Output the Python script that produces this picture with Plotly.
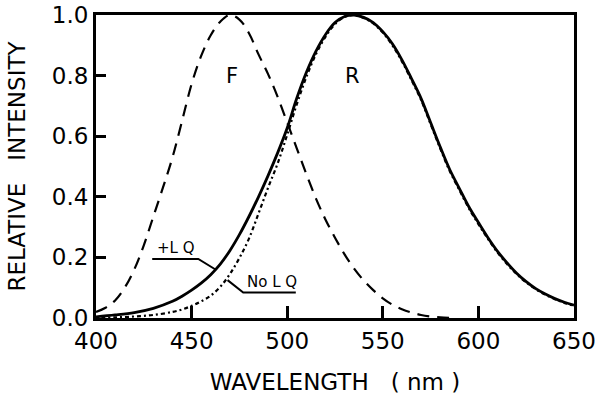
import plotly.graph_objects as go

# Emission spectra (wavelength in nm, relative intensity)
wl_f = [400, 405, 410, 415, 420, 425, 430, 435, 440, 445, 450, 455, 460, 465,
        470, 475, 480, 485, 490, 495, 500, 505, 510, 515, 520, 525, 530, 535,
        540, 545, 550, 555, 560, 565, 570, 575, 580, 585]
f_vals = [0.02, 0.034, 0.058, 0.10, 0.16, 0.24, 0.335, 0.43, 0.53, 0.65, 0.772,
          0.865, 0.933, 0.978, 1.0, 0.985, 0.94, 0.87, 0.805, 0.73, 0.645, 0.56,
          0.475, 0.395, 0.325, 0.265, 0.21, 0.163, 0.124, 0.092, 0.065, 0.044,
          0.029, 0.018, 0.01, 0.005, 0.002, 0.0]

wl_r = [400, 410, 420, 430, 440, 445, 450, 455, 460, 465, 470, 475, 480, 485,
        490, 495, 500, 505, 510, 515, 520, 525, 530, 535, 540, 545, 550, 555,
        560, 565, 570, 575, 580, 585, 590, 595, 600, 605, 610, 615, 620, 625,
        630, 635, 640, 645, 650]
r_lq = [0.004, 0.01, 0.018, 0.032, 0.055, 0.072, 0.092, 0.115, 0.143, 0.178,
        0.222, 0.275, 0.335, 0.40, 0.47, 0.545, 0.627, 0.725, 0.81, 0.88,
        0.935, 0.975, 0.995, 1.0, 0.992, 0.975, 0.945, 0.905, 0.852, 0.79,
        0.725, 0.645, 0.565, 0.49, 0.428, 0.367, 0.315, 0.265, 0.22, 0.182,
        0.148, 0.12, 0.097, 0.079, 0.064, 0.052, 0.042]
r_no_lq = [0.0, 0.002, 0.005, 0.01, 0.02, 0.028, 0.04, 0.055, 0.074, 0.103,
           0.145, 0.198, 0.262, 0.345, 0.43, 0.51, 0.605, 0.705, 0.795, 0.87,
           0.928, 0.97, 0.993, 1.0, 0.99, 0.972, 0.942, 0.9, 0.847, 0.785,
           0.72, 0.64, 0.56, 0.485, 0.423, 0.362, 0.31, 0.261, 0.216, 0.178,
           0.145, 0.117, 0.095, 0.077, 0.062, 0.05, 0.04]

x_ticks = [400, 450, 500, 550, 600, 650]
y_ticks = [0.0, 0.2, 0.4, 0.6, 0.8, 1.0]

# Leader lines for the in-plot labels
lq_leader_x = [429.4, 453.5, 462.5]
lq_leader_y = [0.195, 0.195, 0.16]
nolq_leader_x = [468.8, 477.0, 504.5]
nolq_leader_y = [0.125, 0.084, 0.084]

FONT = "DejaVu Sans"
INK = "black"

fig = go.Figure()

fig.add_trace(go.Scatter(
    x=wl_f, y=f_vals, mode="lines", line_shape="spline",
    line=dict(color=INK, width=2.2, dash="12px,8px"), name="F"
))
fig.add_trace(go.Scatter(
    x=wl_r, y=r_no_lq, mode="lines", line_shape="spline",
    line=dict(color=INK, width=2.2, dash="2px,3px,4px,3px"), name="No LQ"
))
fig.add_trace(go.Scatter(
    x=wl_r, y=r_lq, mode="lines", line_shape="spline",
    line=dict(color=INK, width=2.8), name="+LQ"
))
fig.add_trace(go.Scatter(
    x=lq_leader_x, y=lq_leader_y, mode="lines",
    line=dict(color=INK, width=2), hoverinfo="skip"
))
fig.add_trace(go.Scatter(
    x=nolq_leader_x, y=nolq_leader_y, mode="lines",
    line=dict(color=INK, width=2), hoverinfo="skip"
))

labels = [
    (471, 0.80, "F", 21),
    (534, 0.80, "R", 21),
    (442, 0.232, "+L Q", 15),
    (492, 0.118, "No L Q", 15),
]
for x, y, text, size in labels:
    fig.add_annotation(x=x, y=y, text=text, showarrow=False,
                       font=dict(family=FONT, size=size, color=INK))

axis_common = dict(
    showgrid=False, zeroline=False, showline=True, linecolor=INK,
    linewidth=3, mirror=True, ticks="inside", tickcolor=INK, tickwidth=2.5,
    tickfont=dict(family=FONT, size=23, color=INK), automargin=False,
    ticklabeloverflow="allow",
)

fig.update_xaxes(
    range=[400, 650], tickvals=x_ticks, ticklen=12,
    title=dict(text="WAVELENGTH&nbsp;&nbsp;&nbsp;(&nbsp;nm&nbsp;)",
               font=dict(family=FONT, size=23, color=INK), standoff=22),
    **axis_common
)
fig.update_yaxes(
    range=[0, 1.0], tickvals=y_ticks, tickformat=".1f", ticklen=10,
    title=dict(text="RELATIVE&nbsp;&nbsp;&nbsp;INTENSITY",
               font=dict(family=FONT, size=23, color=INK), standoff=20),
    **axis_common
)

fig.update_layout(
    width=600, height=402,
    margin=dict(l=96, r=26, t=15, b=84),
    plot_bgcolor="white", paper_bgcolor="white",
    showlegend=False,
)

# page body has a default 8px margin; drop it so the figure sits at 0,0
fig.write_html("out.html", config={"displayModeBar": False},
               post_script="document.body.style.margin='0';")
